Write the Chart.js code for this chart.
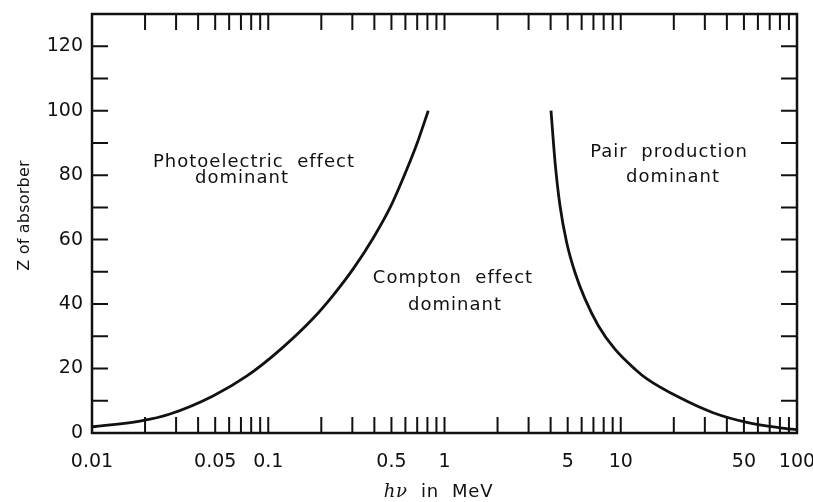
<!DOCTYPE html>
<html>
<head>
<meta charset="utf-8">
<script src="https://cdn.jsdelivr.net/npm/chart.js@4"></script>
<style>
  html, body { margin: 0; padding: 0; background: #fff; }
</style>
</head>
<body>
<canvas id="chart" width="813" height="502"></canvas>
<script>
// photoelectric / Compton boundary (photon energy in MeV, Z)
const photoE = [0.01, 0.0187, 0.0277, 0.0486, 0.0757, 0.1166, 0.180, 0.234, 0.304, 0.395, 0.491, 0.584, 0.695, 0.809];
const photoZ = [1.9, 3.7, 5.9, 11.5, 17.7, 25.8, 35.6, 42.8, 51.0, 60.6, 69.9, 79.2, 89.5, 100];

// Compton / pair production boundary
const pairE = [4.02, 4.24, 4.52, 4.93, 5.50, 6.27, 7.46, 9.27, 12.05, 14.08, 21.7, 33.4, 52.0, 80.1, 100];
const pairZ = [100, 84, 70.6, 59.2, 49.8, 41.6, 33.3, 26, 19.8, 16.8, 10.9, 6.3, 3.3, 1.6, 1.0];

const energyTicks = [0.01, 0.05, 0.1, 0.5, 1, 5, 10, 50, 100];
const energyLabels = ['0.01', '0.05', '0.1', '0.5', '1', '5', '10', '50', '100'];
const zTicks = [0, 20, 40, 60, 80, 100, 120];

// region labels: text, energy, Z
const regionText = [
  ['Photoelectric  effect', 0.083, 84],
  ['dominant', 0.071, 79],
  ['Compton  effect', 1.117, 47.9],
  ['dominant', 1.147, 39.5],
  ['Pair  production', 18.8, 87],
  ['dominant', 19.8, 79.3]
];

const INK = '#111';

function toPoints(xs, ys){ return xs.map((x, i) => ({x, y: ys[i]})); }

const framePlugin = {
  id: 'frame',
  afterDraw(chart){
    const {ctx, chartArea: a, scales: {x, y}} = chart;
    ctx.save();
    ctx.strokeStyle = INK;
    ctx.lineCap = 'butt';

    // inward ticks on all four sides
    ctx.lineWidth = 2;
    ctx.beginPath();
    for (const d of [0.01, 0.1, 1, 10]) {
      for (let m = 1; m < 10; m++) {
        const v = d * m;
        if (v <= 0.01) continue;
        const px = x.getPixelForValue(v);
        ctx.moveTo(px, a.bottom); ctx.lineTo(px, a.bottom - 16);
        ctx.moveTo(px, a.top); ctx.lineTo(px, a.top + 16);
      }
    }
    for (let z = 10; z <= 120; z += 10) {
      const py = y.getPixelForValue(z);
      ctx.moveTo(a.left, py); ctx.lineTo(a.left + 16, py);
      ctx.moveTo(a.right, py); ctx.lineTo(a.right - 16, py);
    }
    ctx.stroke();

    // box
    ctx.lineWidth = 2.5;
    ctx.strokeRect(a.left, a.top, a.right - a.left, a.bottom - a.top);

    // region labels
    ctx.fillStyle = INK;
    ctx.font = '18px "DejaVu Sans"';
    ctx.letterSpacing = '1px';
    ctx.textAlign = 'center';
    ctx.textBaseline = 'middle';
    regionText.forEach(([t, e, z]) => {
      ctx.fillText(t, x.getPixelForValue(e), y.getPixelForValue(z));
    });

    // x axis title: italic h-nu followed by upright units
    ctx.letterSpacing = '0.8px';
    ctx.textAlign = 'left';
    const part1 = 'h\u03BD';
    const part2 = '  in  MeV';
    ctx.font = 'italic 18px "DejaVu Serif"';
    const w1 = ctx.measureText(part1).width;
    ctx.font = '18px "DejaVu Sans"';
    const w2 = ctx.measureText(part2).width;
    const x0 = (a.left + a.right) / 2 - (w1 + w2) / 2 - 6;
    ctx.font = 'italic 18px "DejaVu Serif"';
    ctx.fillText(part1, x0, 492);
    ctx.font = '18px "DejaVu Sans"';
    ctx.fillText(part2, x0 + w1, 492);

    // y axis title
    ctx.save();
    ctx.translate(25, (a.top + a.bottom) / 2 - 8);
    ctx.rotate(-Math.PI / 2);
    ctx.textAlign = 'center';
    ctx.font = '16px "DejaVu Sans"';
    ctx.letterSpacing = '0.2px';
    ctx.fillText('Z of absorber', 0, 0);
    ctx.restore();

    ctx.restore();
  }
};

new Chart(document.getElementById('chart'), {
  type: 'line',
  data: {
    datasets: [
      { data: toPoints(photoE, photoZ), borderColor: INK, borderWidth: 2.8, pointRadius: 0, cubicInterpolationMode: 'monotone', fill: false },
      { data: toPoints(pairE, pairZ), borderColor: INK, borderWidth: 2.8, pointRadius: 0, cubicInterpolationMode: 'monotone', fill: false }
    ]
  },
  options: {
    responsive: false,
    animation: false,
    events: [],
    layout: { padding: { top: 14, right: 16, left: 0, bottom: 0 } },
    plugins: { legend: { display: false }, tooltip: { enabled: false } },
    scales: {
      x: {
        type: 'logarithmic',
        min: 0.01, max: 100,
        grid: { display: false, drawTicks: false },
        border: { display: false },
        afterBuildTicks: s => { s.ticks = energyTicks.map(v => ({value: v})); },
        afterFit: s => { s.height = 69; s.paddingLeft = 0; s.paddingRight = 0; },
        ticks: {
          autoSkip: false, maxRotation: 0, padding: 18,
          color: INK, font: { family: 'DejaVu Sans', size: 19 },
          callback: (v) => energyLabels[energyTicks.indexOf(v)] ?? ''
        }
      },
      y: {
        min: 0, max: 130,
        grid: { display: false, drawTicks: false },
        border: { display: false },
        afterBuildTicks: s => { s.ticks = zTicks.map(v => ({value: v})); },
        afterFit: s => { s.width = 92; s.paddingTop = 0; s.paddingBottom = 0; },
        ticks: { padding: 9, color: INK, font: { family: 'DejaVu Sans', size: 19 } }
      }
    }
  },
  plugins: [framePlugin]
});
</script>
</body>
</html>
